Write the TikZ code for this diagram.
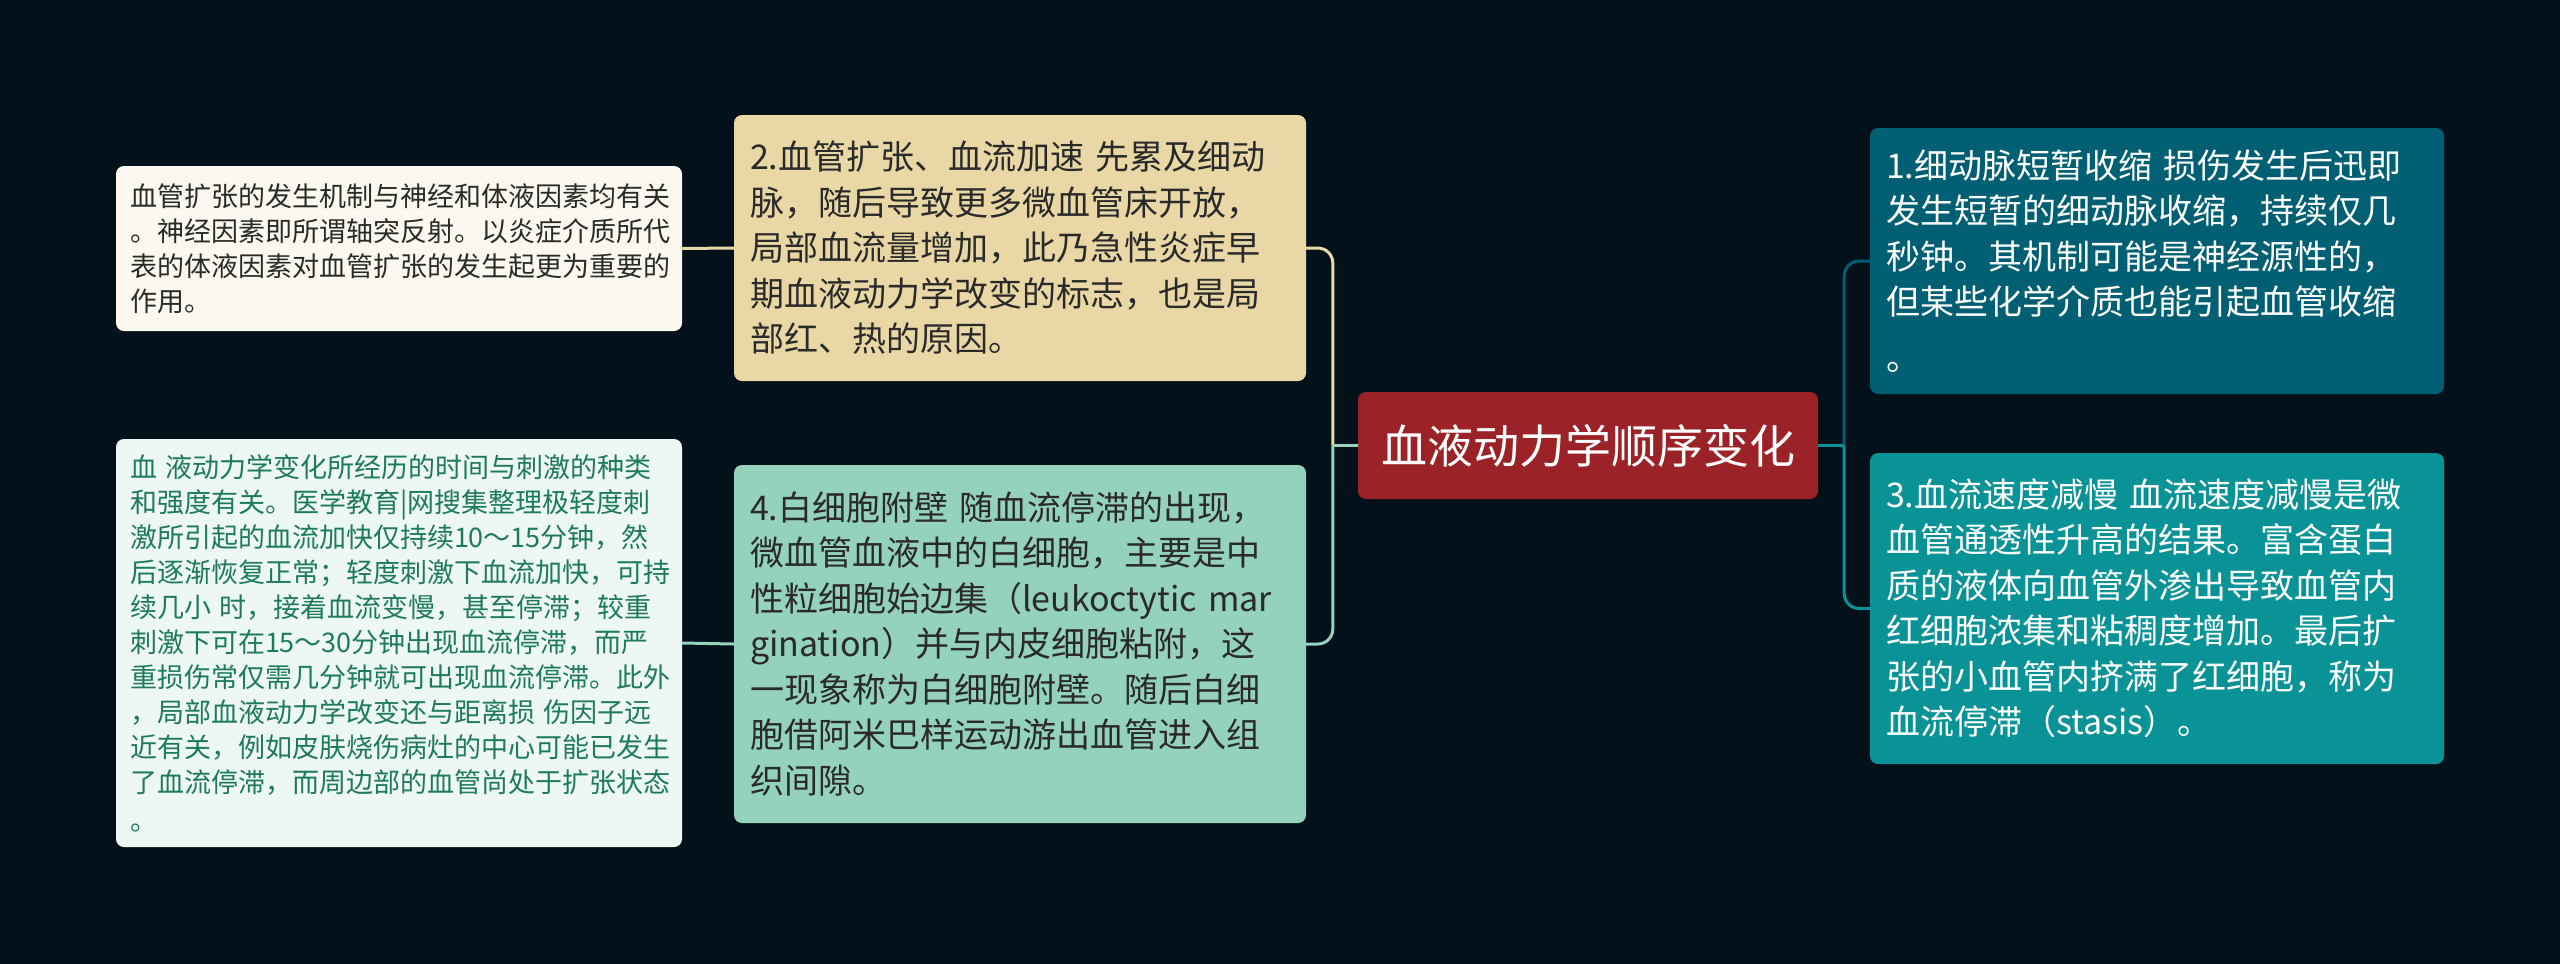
\documentclass[tikz,border=0pt]{standalone}
\usepackage{fontspec}
\setmainfont{Noto Sans CJK SC}
\definecolor{bgc}{HTML}{02111A}
\definecolor{redc}{HTML}{9B2226}
\definecolor{rtc}{HTML}{005F73}
\definecolor{rbc}{HTML}{0A9396}
\definecolor{tanc}{HTML}{E9D8A6}
\definecolor{greenc}{HTML}{94D2BD}
\definecolor{creamc}{HTML}{FBF8EF}
\definecolor{paleg}{HTML}{EDF7F3}
\definecolor{darktext}{HTML}{2A2A2A}
\definecolor{gtext}{HTML}{1E7A5C}
\newcommand\fmain{\fontsize{34pt}{45.5pt}\selectfont}
\newcommand\fsmall{\fontsize{27pt}{35pt}\selectfont}
\newcommand\fbig{\fontsize{46pt}{56pt}\selectfont}
\begin{document}
\begin{tikzpicture}[x=1pt,y=-1pt,
  box/.style={rounded corners=8pt, inner xsep=16pt, inner ysep=0pt, align=left, anchor=center},
  conn/.style={line width=3pt, rounded corners=15pt},
  link/.style={line width=3pt}]
\fill[bgc] (0,0) rectangle (2560,964);
\useasboundingbox (0,0) rectangle (2560,964);

\node[box, fill=redc, text=white, minimum width=460pt, minimum height=107pt, font=\fbig, align=center] (c) at (1588,445.5) {血液动力学顺序变化};

\node[box, fill=rtc, text=white, minimum width=574pt, minimum height=266pt, text width=542pt, font=\fmain] (rt) at (2157,261) {1.细动脉短暂收缩 损伤发生后迅即\\发生短暂的细动脉收缩，持续仅几\\秒钟。其机制可能是神经源性的，\\但某些化学介质也能引起血管收缩\\[10pt]。};

\node[box, fill=rbc, text=white, minimum width=574pt, minimum height=311pt, text width=542pt, font=\fmain] (rb) at (2157,608.5) {3.血流速度减慢 血流速度减慢是微\\血管通透性升高的结果。富含蛋白\\质的液体向血管外渗出导致血管内\\红细胞浓集和粘稠度增加。最后扩\\张的小血管内挤满了红细胞，称为\\血流停滞（stasis）。};

\node[box, fill=tanc, text=darktext, minimum width=572pt, minimum height=266pt, text width=540pt, font=\fmain] (tan) at (1020,248) {2.血管扩张、血流加速 先累及细动\\脉，随后导致更多微血管床开放，\\局部血流量增加，此乃急性炎症早\\期血液动力学改变的标志，也是局\\部红、热的原因。};

\node[box, fill=greenc, text=darktext, minimum width=572pt, minimum height=358pt, text width=540pt, font=\fmain] (green) at (1020,644) {4.白细胞附壁 随血流停滞的出现，\\微血管血液中的白细胞，主要是中\\性粒细胞始边集（leukoctytic mar\\gination）并与内皮细胞粘附，这\\一现象称为白细胞附壁。随后白细\\胞借阿米巴样运动游出血管进入组\\织间隙。};

\node[box, fill=creamc, text=darktext, minimum width=566pt, minimum height=165pt, text width=538pt, inner xsep=14pt, font=\fsmall] (fl1) at (399,248.5) {血管扩张的发生机制与神经和体液因素均有关\\。神经因素即所谓轴突反射。以炎症介质所代\\表的体液因素对血管扩张的发生起更为重要的\\作用。};

\node[box, fill=paleg, text=gtext, minimum width=566pt, minimum height=408pt, text width=538pt, inner xsep=14pt, font=\fsmall] (fl2) at (399,643) {血 液动力学变化所经历的时间与刺激的种类\\和强度有关。医学教育\textbar 网搜集整理极轻度刺\\激所引起的血流加快仅持续10～15分钟，然\\后逐渐恢复正常；轻度刺激下血流加快，可持\\续几小 时，接着血流变慢，甚至停滞；较重\\刺激下可在15～30分钟出现血流停滞，而严\\重损伤常仅需几分钟就可出现血流停滞。此外\\，局部血液动力学改变还与距离损 伤因子远\\近有关，例如皮肤烧伤病灶的中心可能已发生\\了血流停滞，而周边部的血管尚处于扩张状态\\[3pt]。};

\path (c.west) ++(-25,0) coordinate (sl);
\path (c.east) ++(26,0) coordinate (sr);

\draw[conn, tanc] (sl) |- (tan.east);
\draw[conn, greenc] (sl) |- (green.east);
\draw[link, greenc] (c.west) -- (sl);
\draw[conn, rtc] (sr) |- (rt.west);
\draw[conn, rbc] (sr) |- (rb.west);
\draw[link, rbc] (c.east) -- (sr);
\draw[link, tanc] (tan.west) -- (fl1.east);
\draw[link, greenc] (green.west) -- (fl2.east);
\end{tikzpicture}
\end{document}
